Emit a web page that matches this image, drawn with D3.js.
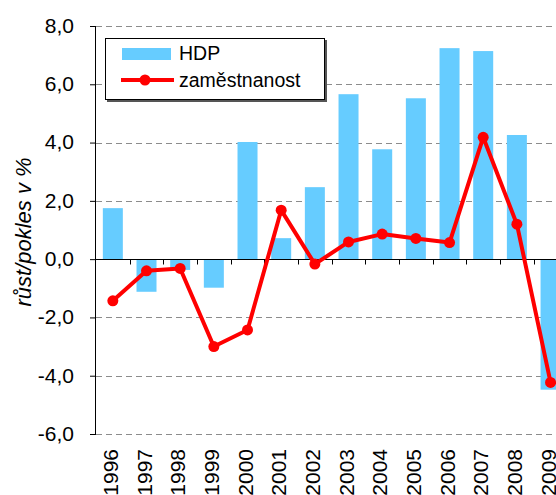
<!DOCTYPE html>
<html>
<head>
<meta charset="utf-8">
<script src="https://cdn.jsdelivr.net/npm/d3@7"></script>
<style>
  body { margin: 0; background: #fff; }
  svg { display: block; font-family: "Liberation Sans", Arial, sans-serif; }
</style>
</head>
<body>
<div id="chart"></div>
<script>
const years = ['1996', '1997', '1998', '1999', '2000', '2001', '2002', '2003', '2004', '2005', '2006', '2007', '2008', '2009'];
const hdp = [1.75, -1.12, -0.37, -0.98, 4.02, 0.72, 2.47, 5.66, 3.77, 5.52, 7.24, 7.14, 4.26, -4.48];
const zamestnanost = [-1.43, -0.4, -0.32, -3.0, -2.43, 1.68, -0.17, 0.59, 0.86, 0.71, 0.57, 4.18, 1.2, -4.23];
const yTicks = [-6, -4, -2, 0, 2, 4, 6, 8];

const width = 556;
const height = 495;
const plotLeft = 96, plotTop = 26, plotBottom = 434;
const fontSize = '21px';

const svg = d3.select('#chart')
  .append('svg')
  .attr('width', width)
  .attr('height', height);

const x = d3.scaleBand()
  .domain(years)
  .range([plotLeft, plotLeft + 14 * 33.67])
  .padding(0);

const y = d3.scaleLinear()
  .domain([-6, 8])
  .range([plotBottom, plotTop]);

const fmt = v => d3.format('.1f')(v).replace('.', ',').replace('−', '-');

// Dashed gridlines
svg.append('g')
  .selectAll('line')
  .data(yTicks.filter(d => d !== 0))
  .enter()
  .append('line')
  .attr('x1', plotLeft)
  .attr('x2', width)
  .attr('y1', d => Math.round(y(d)) + 0.5)
  .attr('y2', d => Math.round(y(d)) + 0.5)
  .attr('stroke', '#8c8c8c')
  .attr('stroke-width', 1)
  .attr('stroke-dasharray', '6,4');

// Bars
const barW = 20;
svg.append('g')
  .selectAll('rect')
  .data(hdp)
  .enter()
  .append('rect')
  .attr('x', (d, i) => x(years[i]) + x.bandwidth() / 2 - barW / 2)
  .attr('y', d => y(Math.max(0, d)))
  .attr('width', barW)
  .attr('height', d => Math.abs(y(d) - y(0)))
  .attr('fill', '#66CCFF');

// Y axis
const yAxis = svg.append('g')
  .attr('transform', `translate(${plotLeft},0)`)
  .call(d3.axisLeft(y).tickValues(yTicks).tickSize(6).tickPadding(16).tickFormat(fmt));
yAxis.select('.domain').attr('stroke', '#000').attr('d', `M-0.5,${plotTop}V${plotBottom}`);
yAxis.selectAll('.tick line').attr('stroke', '#000');
yAxis.selectAll('.tick text')
  .attr('font-size', fontSize)
  .attr('fill', '#000')
  .attr('dy', '0.3em')
  .attr('font-family', '"Liberation Sans", Arial, sans-serif');

// X axis at zero
const xAxisG = svg.append('g').attr('transform', `translate(0,${Math.round(y(0)) + 0.5})`);
xAxisG.append('line')
  .attr('x1', plotLeft)
  .attr('x2', width)
  .attr('stroke', '#000');
xAxisG.selectAll('line.tk')
  .data(years.slice(1))
  .enter()
  .append('line')
  .attr('class', 'tk')
  .attr('x1', d => Math.round(x(d)) + 0.5)
  .attr('x2', d => Math.round(x(d)) + 0.5)
  .attr('y1', 0)
  .attr('y2', 5)
  .attr('stroke', '#000');

// X labels, rotated
svg.append('g')
  .selectAll('text')
  .data(years)
  .enter()
  .append('text')
  .attr('transform', d => `translate(${x(d) + x.bandwidth() / 2 - 2.5},449) rotate(-90)`)
  .attr('text-anchor', 'end')
  .attr('dy', '0.36em')
  .attr('font-size', fontSize)
  .attr('fill', '#000')
  .text(d => d);

// Line series
const line = d3.line()
  .x((d, i) => x(years[i]) + x.bandwidth() / 2)
  .y(d => y(d));

svg.append('path')
  .datum(zamestnanost)
  .attr('d', line)
  .attr('fill', 'none')
  .attr('stroke', '#FF0000')
  .attr('stroke-width', 4)
  .attr('stroke-linejoin', 'round');

svg.append('g')
  .selectAll('circle')
  .data(zamestnanost)
  .enter()
  .append('circle')
  .attr('cx', (d, i) => x(years[i]) + x.bandwidth() / 2)
  .attr('cy', d => y(d))
  .attr('r', 5.5)
  .attr('fill', '#FF0000');

// Y axis title
svg.append('text')
  .attr('transform', 'translate(31,232) rotate(-90)')
  .attr('text-anchor', 'middle')
  .attr('font-size', '22px')
  .attr('font-style', 'italic')
  .attr('fill', '#000')
  .text('růst/pokles v %');

// Legend
const legend = svg.append('g');
legend.append('rect')
  .attr('x', 107).attr('y', 40)
  .attr('width', 220).attr('height', 62)
  .attr('fill', '#555');
legend.append('rect')
  .attr('x', 105.5).attr('y', 38.5)
  .attr('width', 219).attr('height', 61)
  .attr('fill', '#fff')
  .attr('stroke', '#000');
legend.append('rect')
  .attr('x', 122).attr('y', 48)
  .attr('width', 49).attr('height', 12)
  .attr('fill', '#66CCFF');
legend.append('text')
  .attr('x', 179).attr('y', 60)
  .attr('font-size', '19.5px')
  .text('HDP');
legend.append('line')
  .attr('x1', 121).attr('x2', 174)
  .attr('y1', 80).attr('y2', 80)
  .attr('stroke', '#FF0000')
  .attr('stroke-width', 4);
legend.append('circle')
  .attr('cx', 145).attr('cy', 80).attr('r', 5.5)
  .attr('fill', '#FF0000');
legend.append('text')
  .attr('x', 179).attr('y', 87)
  .attr('font-size', '19.5px')
  .text('zaměstnanost');
</script>
</body>
</html>
